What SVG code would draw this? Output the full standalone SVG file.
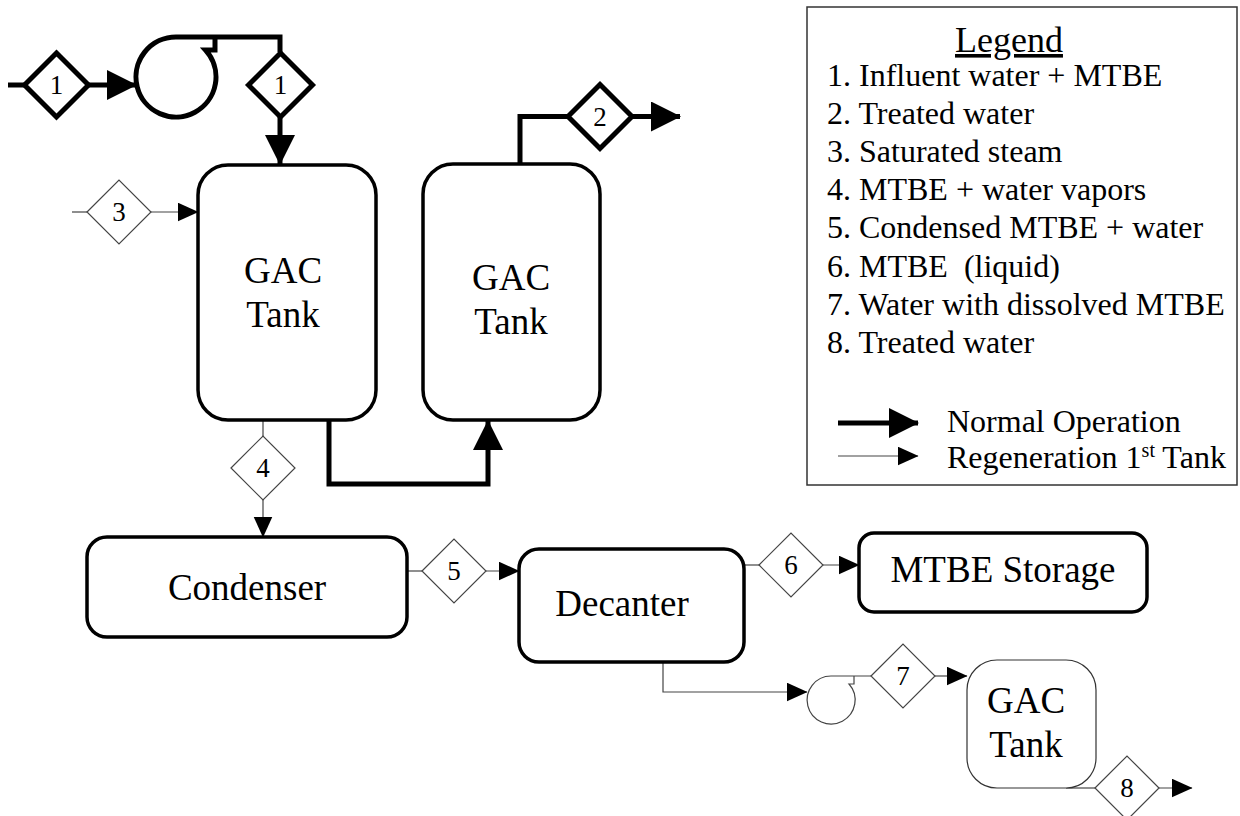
<svg xmlns="http://www.w3.org/2000/svg" width="1240" height="816" viewBox="0 0 1240 816">
<style>
text{font-family:'Liberation Serif','Times New Roman',serif;fill:#000;stroke:none}
.box{fill:#fff;stroke:#000;stroke-width:3.5}
.boxthin{fill:#fff;stroke:#333;stroke-width:1.2}
.thick{fill:none;stroke:#000;stroke-width:5}
.thin{fill:none;stroke:#444;stroke-width:1.2}
.dthick{fill:#fff;stroke:#000;stroke-width:5}
.dthin{fill:#fff;stroke:#444;stroke-width:1.2}
.lbl{font-size:37px;text-anchor:middle}
.num{font-size:27px;text-anchor:middle}
.leg{font-size:32px}
</style>
<defs>
<marker id="ah" markerUnits="userSpaceOnUse" markerWidth="30" markerHeight="30" refX="29" refY="15" orient="auto">
<path d="M0,0 L30,15 L0,30 Z" fill="#000" stroke="none"/>
</marker>
<marker id="at" markerUnits="userSpaceOnUse" markerWidth="21" markerHeight="20" refX="20.5" refY="9.5" orient="auto">
<path d="M0,0 L21,9.5 L0,19 Z" fill="#000" stroke="none"/>
</marker>
<path id="dia" d="M-32,0 L0,-32 L32,0 L0,32 Z"/>
</defs>

<g id="connectors">
<line class="thick" x1="8" y1="85" x2="25" y2="85"/>
<line class="thick" x1="88" y1="85" x2="136" y2="85" marker-end="url(#ah)"/>
<path class="thick" d="M215,37 L215,50 L205.5,50 A40,40 0 1 1 176,37 L280,37 L280,52"/>
<line class="thick" x1="280" y1="117" x2="280" y2="164" marker-end="url(#ah)"/>
<path class="thick" d="M329,420 L329,484 L488,484 L488,421" marker-end="url(#ah)"/>
<path class="thick" d="M520,164 L520,116.5 L568,116.5"/>
<line class="thick" x1="632" y1="116.5" x2="680" y2="116.5" marker-end="url(#ah)"/>
<line class="thin" x1="72" y1="212" x2="87" y2="212"/>
<line class="thin" x1="151" y1="212" x2="198" y2="212" marker-end="url(#at)"/>
<line class="thin" x1="263" y1="420" x2="263" y2="436"/>
<line class="thin" x1="263" y1="500" x2="263" y2="537" marker-end="url(#at)"/>
<line class="thin" x1="407" y1="571" x2="422" y2="571"/>
<line class="thin" x1="486" y1="571" x2="519" y2="571" marker-end="url(#at)"/>
<line class="thin" x1="744" y1="565" x2="759" y2="565"/>
<line class="thin" x1="823" y1="565" x2="859" y2="565" marker-end="url(#at)"/>
<path class="thin" d="M663,662 L663,692 L807,692" marker-end="url(#at)"/>
<path class="thin" d="M854,676 L854,684 L849,684 A24,24 0 1 1 831,676 L871,676"/>
<line class="thin" x1="935" y1="676" x2="967" y2="676" marker-end="url(#at)"/>
<line class="thin" x1="1066" y1="788" x2="1095" y2="788"/>
<line class="thin" x1="1159" y1="788" x2="1192" y2="788" marker-end="url(#at)"/>
</g>

<g id="stream1a"><use href="#dia" class="dthick" x="56.5" y="85"/><text class="num" x="56.5" y="94">1</text></g>
<g id="stream1b"><use href="#dia" class="dthick" x="280.5" y="85"/><text class="num" x="280.5" y="94">1</text></g>
<g id="stream2"><use href="#dia" class="dthick" x="600" y="116.5"/><text class="num" x="600" y="126">2</text></g>
<g id="stream3"><use href="#dia" class="dthin" x="119" y="212"/><text class="num" x="119" y="221">3</text></g>
<g id="stream4"><use href="#dia" class="dthin" x="263" y="468"/><text class="num" x="263" y="477">4</text></g>
<g id="stream5"><use href="#dia" class="dthin" x="454" y="571"/><text class="num" x="454" y="580">5</text></g>
<g id="stream6"><use href="#dia" class="dthin" x="791" y="565"/><text class="num" x="791" y="574">6</text></g>
<g id="stream7"><use href="#dia" class="dthin" x="903" y="676"/><text class="num" x="903" y="685">7</text></g>
<g id="stream8"><use href="#dia" class="dthin" x="1127" y="788"/><text class="num" x="1127" y="797">8</text></g>

<g id="gac-tank-1">
<rect class="box" x="198" y="165" width="178" height="255" rx="30"/>
<text class="lbl" x="283" y="283">GAC</text>
<text class="lbl" x="283" y="327">Tank</text>
</g>
<g id="gac-tank-2">
<rect class="box" x="423" y="164" width="177" height="256" rx="30"/>
<text class="lbl" x="511" y="290">GAC</text>
<text class="lbl" x="511" y="334">Tank</text>
</g>
<g id="condenser">
<rect class="box" x="87" y="537" width="320" height="100" rx="20"/>
<text class="lbl" x="247" y="600">Condenser</text>
</g>
<g id="decanter">
<rect class="box" x="519" y="549" width="225" height="113" rx="20"/>
<text class="lbl" x="622" y="616">Decanter</text>
</g>
<g id="mtbe-storage">
<rect class="box" x="859" y="533" width="288" height="79" rx="15"/>
<text class="lbl" x="1003" y="582">MTBE Storage</text>
</g>
<g id="gac-tank-3">
<rect class="boxthin" x="967" y="660" width="129" height="128" rx="30"/>
<text class="lbl" x="1026" y="713">GAC</text>
<text class="lbl" x="1026" y="757">Tank</text>
</g>

<g id="legend">
<rect x="807" y="7" width="430" height="478" fill="#fff" stroke="#333" stroke-width="1.5"/>
<text x="1009" y="52" font-size="36" text-anchor="middle" text-decoration="underline">Legend</text>
<text class="leg" x="827" y="86">1. Influent water + MTBE</text>
<text class="leg" x="827" y="124">2. Treated water</text>
<text class="leg" x="827" y="162">3. Saturated steam</text>
<text class="leg" x="827" y="200">4. MTBE + water vapors</text>
<text class="leg" x="827" y="238">5. Condensed MTBE + water</text>
<text class="leg" x="827" y="277" xml:space="preserve">6. MTBE  (liquid)</text>
<text class="leg" x="827" y="315">7. Water with dissolved MTBE</text>
<text class="leg" x="827" y="353">8. Treated water</text>
<line class="thick" x1="838" y1="423" x2="918" y2="423" marker-end="url(#ah)"/>
<line class="thin" x1="838" y1="456" x2="918" y2="456" marker-end="url(#at)"/>
<text class="leg" x="947" y="432">Normal Operation</text>
<text class="leg" x="947" y="468">Regeneration 1<tspan font-size="20" dy="-11">st</tspan><tspan dy="11"> Tank</tspan></text>
</g>
</svg>
